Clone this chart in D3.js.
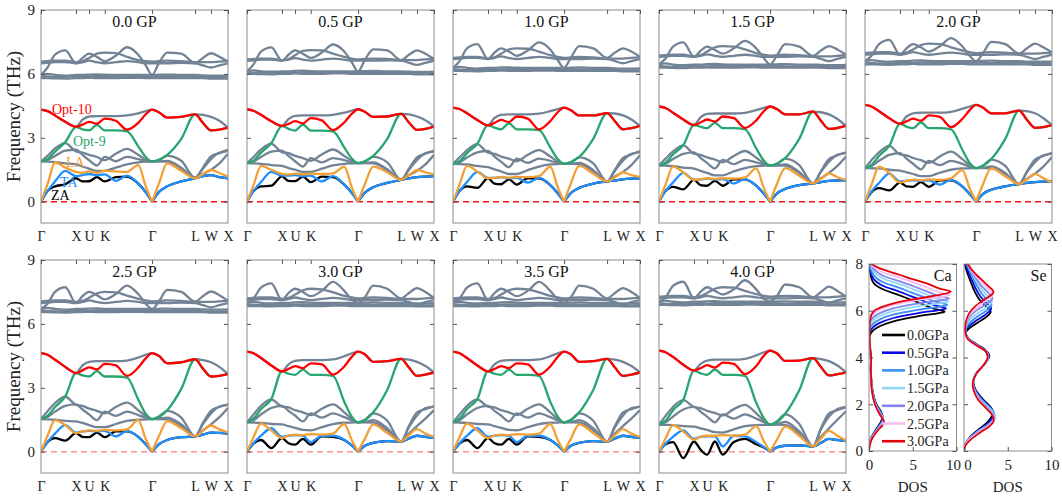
<!DOCTYPE html>
<html>
<head>
<meta charset="utf-8">
<script src="https://cdn.jsdelivr.net/npm/d3@7"></script>
<style>
  body { margin: 0; background: #fff; }
  svg { display: block; }
</style>
</head>
<body>
<svg width="1062" height="498"></svg>
<script>
// path coordinate (fraction of Γ-X-U-K-Γ-L-W-X) where each band value is read
const kGrid = [0, 0.035, 0.075, 0.13, 0.187, 0.222, 0.257, 0.299, 0.341, 0.40, 0.46, 0.52, 0.56, 0.594, 0.63, 0.675, 0.75, 0.824, 0.866, 0.909, 0.954, 1];
const symPos = [0, 0.187, 0.257, 0.341, 0.594, 0.824, 0.909, 1];
const symLabels = ['Γ', 'X', 'U', 'K', 'Γ', 'L', 'W', 'X'];
const freqTicks = [0, 3, 6, 9];
const panelTitles = ['0.0 GP', '0.5 GP', '1.0 GP', '1.5 GP', '2.0 GP', '2.5 GP', '3.0 GP', '3.5 GP', '4.0 GP'];

// band order: ZA, TA, LA, gray x3, Opt-9, Opt-10, gray, gray x6 (high group)
const bands00 = [
  [0, .5, .72, .82, 1.1, .95, .96, 1.15, .95, 1.15, 1.18, .85, .45, 0, .45, .72, .95, 1.1, 1.2, 1.25, 1.15, 1.1],
  [0, .5, .95, 1.45, 1.2, 1.25, 1.3, 1.25, 1.28, .98, 1.22, .85, .45, 0, .45, .72, .95, 1.1, 1.2, 1.25, 1.15, 1.1],
  [0, .82, 1.84, 1.6, 1.4, 1.35, 1.42, 1.35, 1.45, 1.42, 1.4, 1.72, .72, 0, .84, 1.8, 1.45, 1.1, 1.3, 1.5, 1.35, 1.18],
  [1.89, 1.88, 1.86, 1.8, 1.75, 1.65, 1.55, 1.45, 1.45, 1.6, 1.75, 1.85, 1.88, 1.89, 1.89, 1.88, 1.55, 1.12, 1.3, 1.5, 1.8, 2.25],
  [1.89, 1.95, 2.15, 2.4, 2.44, 2.2, 1.95, 1.7, 2.1, 1.9, 2.1, 2.0, 1.92, 1.89, 1.9, 1.92, 1.6, 1.12, 1.6, 2.13, 2.28, 2.44],
  [1.89, 2.15, 2.5, 2.75, 2.36, 2.3, 2.2, 2.1, 1.95, 2.25, 2.48, 2.2, 1.98, 1.89, 1.95, 2.15, 1.92, 1.12, 1.55, 2.0, 2.3, 2.38],
  [1.89, 2.0, 2.35, 2.8, 3.5, 3.4, 3.35, 3.6, 3.35, 3.35, 3.3, 2.6, 2.1, 1.89, 1.97, 2.2, 2.95, 4.1, 3.7, 3.35, 3.38, 3.48],
  [4.32, 4.25, 4.05, 3.75, 3.52, 3.62, 3.75, 3.66, 3.9, 3.8, 3.38, 3.7, 4.1, 4.32, 4.2, 3.95, 3.98, 4.1, 3.7, 3.35, 3.38, 3.48],
  [4.32, 4.25, 4.05, 3.75, 3.52, 3.85, 4.0, 4.02, 4.02, 4.02, 4.05, 4.15, 4.25, 4.32, 4.2, 3.95, 3.98, 4.1, 4.08, 3.98, 3.8, 3.48],
  [5.8, 5.8, 5.79, 5.78, 5.8, 5.8, 5.82, 5.8, 5.8, 5.8, 5.82, 5.82, 5.8, 5.8, 5.8, 5.8, 5.8, 5.8, 5.8, 5.78, 5.78, 5.78],
  [5.9, 5.88, 5.86, 5.86, 5.9, 5.88, 5.88, 5.9, 5.9, 5.88, 5.9, 5.9, 5.88, 5.9, 5.9, 5.88, 5.88, 5.9, 5.86, 5.85, 5.85, 5.86],
  [5.95, 6.0, 5.95, 5.92, 5.95, 5.95, 5.97, 5.98, 5.96, 5.95, 5.95, 5.95, 5.95, 5.95, 5.96, 5.97, 5.95, 5.95, 5.93, 5.92, 5.92, 5.93],
  [6.5, 6.52, 6.55, 6.55, 6.5, 6.55, 6.62, 6.55, 6.5, 6.55, 6.6, 6.55, 6.5, 6.5, 6.5, 6.5, 6.52, 6.5, 6.4, 6.3, 6.4, 6.5],
  [5.95, 6.3, 6.9, 7.1, 6.5, 6.75, 6.95, 6.8, 6.6, 6.85, 7.25, 6.9, 6.4, 5.95, 6.5, 7.0, 6.95, 6.5, 6.75, 6.97, 6.8, 6.58],
  [6.58, 6.6, 6.62, 6.62, 6.55, 6.6, 6.75, 6.95, 7.0, 6.98, 6.8, 6.65, 6.6, 6.58, 6.6, 6.62, 6.6, 6.55, 6.55, 6.55, 6.58, 6.6]
];
const bands05 = [
  [0, .5, .72, .75, 1.19, .98, .97, 1.18, .92, 1.18, 1.15, .8, .42, 0, .42, .68, .88, 1.03, 1.1, 1.15, 1.18, 1.2],
  [0, .5, .92, 1.4, 1.22, 1.22, 1.25, 1.2, 1.22, .95, 1.2, .8, .42, 0, .42, .68, .88, 1.03, 1.1, 1.15, 1.18, 1.2],
  [0, .78, 1.68, 1.5, 1.31, 1.28, 1.32, 1.28, 1.32, 1.3, 1.33, 1.64, .68, 0, .82, 1.65, 1.38, 1.03, 1.25, 1.48, 1.38, 1.27],
  [1.81, 1.8, 1.78, 1.72, 1.68, 1.58, 1.5, 1.4, 1.4, 1.55, 1.7, 1.78, 1.8, 1.81, 1.81, 1.8, 1.48, 1.03, 1.25, 1.45, 1.75, 2.2],
  [1.81, 1.88, 2.1, 2.35, 2.4, 2.15, 1.9, 1.65, 2.05, 1.85, 2.05, 1.95, 1.85, 1.81, 1.82, 1.85, 1.52, 1.03, 1.55, 2.08, 2.25, 2.4],
  [1.81, 2.1, 2.45, 2.72, 2.32, 2.28, 2.15, 2.05, 1.92, 2.22, 2.45, 2.15, 1.92, 1.81, 1.88, 2.1, 1.85, 1.03, 1.5, 1.95, 2.28, 2.35],
  [1.81, 1.93, 2.3, 2.75, 3.55, 3.42, 3.34, 3.62, 3.34, 3.34, 3.3, 2.55, 2.03, 1.81, 1.9, 2.15, 2.95, 4.12, 3.72, 3.37, 3.42, 3.53],
  [4.34, 4.27, 4.08, 3.78, 3.56, 3.65, 3.78, 3.68, 3.92, 3.82, 3.36, 3.72, 4.12, 4.34, 4.22, 3.98, 4.0, 4.12, 3.72, 3.37, 3.42, 3.53],
  [4.34, 4.27, 4.08, 3.78, 3.56, 3.88, 4.03, 4.05, 4.05, 4.05, 4.08, 4.18, 4.27, 4.34, 4.22, 3.98, 4.0, 4.12, 4.1, 4.0, 3.82, 3.53],
  [6.0, 6.0, 5.99, 5.98, 6.0, 6.0, 6.02, 6.0, 6.0, 6.0, 6.02, 6.02, 6.0, 6.0, 6.0, 6.0, 6.0, 6.0, 6.0, 5.98, 5.98, 5.98],
  [6.08, 6.06, 6.04, 6.04, 6.08, 6.06, 6.06, 6.08, 6.08, 6.06, 6.08, 6.08, 6.06, 6.08, 6.08, 6.06, 6.06, 6.08, 6.04, 6.03, 6.03, 6.04],
  [6.12, 6.17, 6.12, 6.1, 6.12, 6.12, 6.14, 6.15, 6.13, 6.12, 6.12, 6.12, 6.12, 6.12, 6.13, 6.14, 6.12, 6.12, 6.1, 6.09, 6.09, 6.1],
  [6.62, 6.64, 6.67, 6.67, 6.62, 6.67, 6.74, 6.67, 6.62, 6.67, 6.72, 6.67, 6.62, 6.62, 6.62, 6.62, 6.64, 6.62, 6.52, 6.42, 6.52, 6.62],
  [6.12, 6.45, 7.05, 7.25, 6.62, 6.9, 7.1, 6.95, 6.75, 7.0, 7.38, 7.05, 6.55, 6.12, 6.65, 7.15, 7.1, 6.65, 6.9, 7.1, 6.95, 6.7],
  [6.68, 6.7, 6.72, 6.72, 6.65, 6.7, 6.88, 7.08, 7.12, 7.1, 6.95, 6.8, 6.72, 6.68, 6.7, 6.72, 6.7, 6.65, 6.65, 6.65, 6.68, 6.7]
];
const bands10 = [
  [0, .5, .72, .65, 1.1, .85, .82, 1.05, .8, 1.1, 1.1, .78, .4, 0, .4, .65, .85, .95, 1.0, 1.05, 1.08, 1.1],
  [0, .5, .92, 1.4, 1.12, 1.12, 1.15, 1.1, 1.12, .9, 1.12, .78, .4, 0, .4, .65, .85, .95, 1.0, 1.05, 1.08, 1.1],
  [0, .8, 1.68, 1.42, 1.1, 1.12, 1.16, 1.12, 1.16, 1.15, 1.2, 1.64, .68, 0, .85, 1.68, 1.32, .95, 1.15, 1.37, 1.25, 1.16],
  [1.78, 1.77, 1.75, 1.68, 1.62, 1.52, 1.42, 1.3, 1.3, 1.48, 1.65, 1.75, 1.77, 1.78, 1.78, 1.77, 1.42, .95, 1.18, 1.4, 1.72, 2.18],
  [1.78, 1.85, 2.07, 2.32, 2.38, 2.12, 1.88, 1.62, 2.02, 1.82, 2.02, 1.92, 1.82, 1.78, 1.79, 1.82, 1.48, .95, 1.5, 2.05, 2.22, 2.38],
  [1.78, 2.08, 2.42, 2.7, 2.3, 2.25, 2.12, 2.02, 1.9, 2.2, 2.42, 2.12, 1.88, 1.78, 1.85, 2.08, 1.8, .95, 1.45, 1.92, 2.25, 2.32],
  [1.78, 1.9, 2.28, 2.72, 3.6, 3.48, 3.4, 3.68, 3.4, 3.4, 3.36, 2.55, 2.0, 1.78, 1.86, 2.1, 2.95, 4.16, 3.78, 3.4, 3.45, 3.56],
  [4.42, 4.35, 4.15, 3.84, 3.58, 3.7, 3.84, 3.74, 4.0, 3.9, 3.4, 3.78, 4.2, 4.42, 4.3, 4.05, 4.05, 4.16, 3.78, 3.4, 3.45, 3.56],
  [4.42, 4.35, 4.15, 3.84, 3.58, 3.93, 4.08, 4.1, 4.1, 4.1, 4.13, 4.25, 4.35, 4.42, 4.3, 4.05, 4.05, 4.16, 4.14, 4.05, 3.86, 3.56],
  [6.14, 6.14, 6.13, 6.12, 6.14, 6.14, 6.16, 6.14, 6.14, 6.14, 6.16, 6.16, 6.14, 6.14, 6.14, 6.14, 6.14, 6.14, 6.14, 6.12, 6.12, 6.12],
  [6.22, 6.2, 6.18, 6.18, 6.22, 6.2, 6.2, 6.22, 6.22, 6.2, 6.22, 6.22, 6.2, 6.22, 6.22, 6.2, 6.2, 6.22, 6.18, 6.17, 6.17, 6.18],
  [6.28, 6.33, 6.28, 6.25, 6.28, 6.28, 6.3, 6.31, 6.29, 6.28, 6.28, 6.28, 6.28, 6.28, 6.29, 6.3, 6.28, 6.28, 6.26, 6.25, 6.25, 6.26],
  [6.7, 6.72, 6.75, 6.75, 6.7, 6.75, 6.82, 6.75, 6.7, 6.75, 6.8, 6.75, 6.7, 6.7, 6.7, 6.7, 6.72, 6.7, 6.6, 6.5, 6.6, 6.7],
  [6.28, 6.6, 7.2, 7.4, 6.7, 7.0, 7.2, 7.05, 6.85, 7.1, 7.48, 7.15, 6.65, 6.28, 6.75, 7.3, 7.2, 6.75, 7.0, 7.2, 7.05, 6.8],
  [6.75, 6.77, 6.8, 6.8, 6.72, 6.78, 6.95, 7.15, 7.2, 7.18, 7.05, 6.88, 6.8, 6.75, 6.77, 6.8, 6.78, 6.72, 6.72, 6.72, 6.75, 6.78]
];
const bands15 = [
  [0, .5, .7, .58, 1.02, .78, .75, .98, .75, 1.05, 1.05, .75, .38, 0, .38, .6, .78, .86, .92, .98, 1.0, 1.0],
  [0, .5, .9, 1.35, 1.04, 1.05, 1.08, 1.05, 1.06, .85, 1.06, .75, .38, 0, .38, .6, .78, .86, .92, .98, 1.0, 1.0],
  [0, .8, 1.65, 1.38, 1.02, 1.06, 1.1, 1.06, 1.1, 1.08, 1.14, 1.56, .65, 0, .82, 1.58, 1.22, .86, 1.08, 1.33, 1.15, 1.02],
  [1.7, 1.69, 1.67, 1.6, 1.55, 1.45, 1.35, 1.24, 1.24, 1.42, 1.58, 1.67, 1.69, 1.7, 1.7, 1.69, 1.35, .86, 1.1, 1.35, 1.68, 2.12],
  [1.7, 1.78, 2.0, 2.25, 2.32, 2.06, 1.82, 1.56, 1.96, 1.76, 1.96, 1.85, 1.75, 1.7, 1.72, 1.75, 1.4, .86, 1.44, 2.0, 2.18, 2.32],
  [1.7, 2.02, 2.36, 2.64, 2.25, 2.2, 2.08, 1.98, 1.85, 2.15, 2.38, 2.06, 1.82, 1.7, 1.78, 2.02, 1.72, .86, 1.4, 1.88, 2.2, 2.28],
  [1.7, 1.83, 2.22, 2.66, 3.6, 3.52, 3.45, 3.7, 3.45, 3.45, 3.4, 2.5, 1.93, 1.7, 1.78, 2.05, 2.95, 4.23, 3.8, 3.42, 3.46, 3.56],
  [4.47, 4.4, 4.18, 3.86, 3.6, 3.72, 3.86, 3.76, 4.0, 3.92, 3.46, 3.82, 4.24, 4.47, 4.35, 4.1, 4.1, 4.23, 3.8, 3.42, 3.46, 3.56],
  [4.47, 4.4, 4.18, 3.86, 3.6, 3.96, 4.12, 4.14, 4.14, 4.14, 4.17, 4.3, 4.4, 4.47, 4.35, 4.1, 4.1, 4.23, 4.2, 4.1, 3.88, 3.56],
  [6.29, 6.29, 6.28, 6.27, 6.29, 6.29, 6.31, 6.29, 6.29, 6.29, 6.31, 6.31, 6.29, 6.29, 6.29, 6.29, 6.29, 6.29, 6.29, 6.27, 6.27, 6.27],
  [6.37, 6.35, 6.33, 6.33, 6.37, 6.35, 6.35, 6.37, 6.37, 6.35, 6.37, 6.37, 6.35, 6.37, 6.37, 6.35, 6.35, 6.37, 6.33, 6.32, 6.32, 6.33],
  [6.44, 6.49, 6.44, 6.41, 6.44, 6.44, 6.46, 6.47, 6.45, 6.44, 6.44, 6.44, 6.44, 6.44, 6.45, 6.46, 6.44, 6.44, 6.42, 6.41, 6.41, 6.42],
  [6.8, 6.82, 6.85, 6.85, 6.8, 6.85, 6.92, 6.85, 6.8, 6.85, 6.9, 6.85, 6.8, 6.8, 6.8, 6.8, 6.82, 6.8, 6.7, 6.6, 6.7, 6.8],
  [6.44, 6.72, 7.28, 7.48, 6.8, 7.08, 7.28, 7.12, 6.95, 7.2, 7.55, 7.2, 6.75, 6.44, 6.85, 7.4, 7.28, 6.85, 7.1, 7.3, 7.15, 6.9],
  [6.86, 6.88, 6.9, 6.9, 6.82, 6.88, 7.05, 7.25, 7.3, 7.28, 7.15, 6.98, 6.9, 6.86, 6.88, 6.9, 6.88, 6.82, 6.82, 6.82, 6.85, 6.88]
];
const bands20 = [
  [0, .45, .64, .53, .9, .72, .7, .92, .7, 1.0, 1.0, .72, .36, 0, .36, .56, .72, .83, .88, .92, .94, .95],
  [0, .48, .88, 1.32, .95, .98, 1.0, .98, 1.0, .8, 1.02, .72, .36, 0, .36, .56, .72, .83, .88, .92, .94, .95],
  [0, .8, 1.64, 1.35, .9, .98, 1.04, 1.0, 1.05, 1.02, 1.1, 1.48, .62, 0, .8, 1.56, 1.2, .83, 1.05, 1.31, 1.1, .9],
  [1.58, 1.57, 1.56, 1.5, 1.46, 1.38, 1.3, 1.2, 1.2, 1.36, 1.5, 1.56, 1.57, 1.58, 1.58, 1.57, 1.28, .83, 1.08, 1.32, 1.65, 2.1],
  [1.58, 1.68, 1.92, 2.2, 2.28, 2.02, 1.78, 1.52, 1.92, 1.72, 1.92, 1.78, 1.65, 1.58, 1.6, 1.66, 1.35, .83, 1.42, 1.98, 2.15, 2.3],
  [1.58, 1.95, 2.32, 2.62, 2.22, 2.18, 2.05, 1.95, 1.82, 2.12, 2.35, 2.0, 1.72, 1.58, 1.7, 1.98, 1.68, .83, 1.38, 1.85, 2.18, 2.25],
  [1.58, 1.73, 2.15, 2.63, 3.66, 3.52, 3.45, 3.72, 3.45, 3.45, 3.4, 2.45, 1.82, 1.58, 1.68, 2.0, 2.95, 4.28, 3.85, 3.47, 3.5, 3.6],
  [4.55, 4.47, 4.25, 3.92, 3.66, 3.77, 3.9, 3.8, 4.05, 3.98, 3.5, 3.88, 4.3, 4.55, 4.42, 4.15, 4.15, 4.28, 3.85, 3.47, 3.5, 3.6],
  [4.55, 4.47, 4.25, 3.92, 3.66, 4.0, 4.15, 4.18, 4.18, 4.18, 4.22, 4.36, 4.47, 4.55, 4.42, 4.15, 4.15, 4.28, 4.25, 4.15, 3.92, 3.6],
  [6.45, 6.45, 6.44, 6.43, 6.45, 6.45, 6.47, 6.45, 6.45, 6.45, 6.47, 6.47, 6.45, 6.45, 6.45, 6.45, 6.45, 6.45, 6.45, 6.43, 6.43, 6.43],
  [6.53, 6.51, 6.49, 6.49, 6.53, 6.51, 6.51, 6.53, 6.53, 6.51, 6.53, 6.53, 6.51, 6.53, 6.53, 6.51, 6.51, 6.53, 6.49, 6.48, 6.48, 6.49],
  [6.6, 6.65, 6.6, 6.57, 6.6, 6.6, 6.62, 6.63, 6.61, 6.6, 6.6, 6.6, 6.6, 6.6, 6.61, 6.62, 6.6, 6.6, 6.58, 6.57, 6.57, 6.58],
  [6.9, 6.92, 6.95, 6.95, 6.9, 6.95, 7.02, 6.95, 6.9, 6.95, 7.0, 6.95, 6.9, 6.9, 6.9, 6.9, 6.92, 6.9, 6.8, 6.7, 6.8, 6.9],
  [6.6, 6.85, 7.4, 7.6, 6.9, 7.2, 7.4, 7.25, 7.05, 7.3, 7.68, 7.3, 6.85, 6.6, 6.95, 7.5, 7.4, 6.95, 7.2, 7.42, 7.25, 7.0],
  [6.98, 7.0, 7.02, 7.02, 6.95, 7.0, 7.15, 7.35, 7.42, 7.4, 7.25, 7.1, 7.02, 6.98, 7.0, 7.02, 7.0, 6.95, 6.95, 6.95, 6.98, 7.0]
];
const bands25 = [
  [0, .45, .64, .52, .87, .7, .68, .9, .68, .95, .95, .7, .35, 0, .35, .55, .68, .72, .8, .9, .88, .85],
  [0, .45, .85, 1.25, .9, .95, .98, .95, .98, .72, .97, .7, .35, 0, .35, .55, .68, .72, .8, .9, .88, .85],
  [0, .75, 1.48, 1.25, .87, .95, 1.0, .98, 1.02, 1.0, 1.05, 1.48, .6, 0, .72, 1.44, 1.1, .72, .98, 1.23, 1.05, .9],
  [1.53, 1.52, 1.5, 1.45, 1.42, 1.35, 1.25, 1.15, 1.15, 1.3, 1.45, 1.5, 1.52, 1.53, 1.53, 1.52, 1.2, .72, 1.0, 1.28, 1.62, 2.05],
  [1.53, 1.63, 1.88, 2.15, 2.22, 1.98, 1.75, 1.48, 1.88, 1.68, 1.88, 1.72, 1.6, 1.53, 1.55, 1.6, 1.28, .72, 1.35, 1.92, 2.1, 2.22],
  [1.53, 1.9, 2.28, 2.58, 2.2, 2.15, 2.02, 1.92, 1.8, 2.1, 2.3, 1.95, 1.68, 1.53, 1.65, 1.92, 1.6, .72, 1.3, 1.8, 2.12, 2.2],
  [1.53, 1.68, 2.1, 2.6, 3.69, 3.58, 3.53, 3.78, 3.53, 3.53, 3.48, 2.45, 1.78, 1.53, 1.62, 1.95, 2.95, 4.34, 3.9, 3.53, 3.56, 3.64],
  [4.63, 4.55, 4.32, 3.98, 3.69, 3.82, 3.96, 3.86, 4.12, 4.05, 3.56, 3.95, 4.38, 4.63, 4.5, 4.15, 4.2, 4.34, 3.9, 3.53, 3.56, 3.64],
  [4.63, 4.55, 4.32, 3.98, 3.69, 4.05, 4.22, 4.25, 4.25, 4.25, 4.28, 4.42, 4.55, 4.63, 4.5, 4.15, 4.2, 4.34, 4.3, 4.2, 3.98, 3.64],
  [6.55, 6.55, 6.54, 6.53, 6.55, 6.55, 6.57, 6.55, 6.55, 6.55, 6.57, 6.57, 6.55, 6.55, 6.55, 6.55, 6.55, 6.55, 6.55, 6.53, 6.53, 6.53],
  [6.63, 6.61, 6.59, 6.59, 6.63, 6.61, 6.61, 6.63, 6.63, 6.61, 6.63, 6.63, 6.61, 6.63, 6.63, 6.61, 6.61, 6.63, 6.59, 6.58, 6.58, 6.59],
  [6.7, 6.75, 6.7, 6.67, 6.7, 6.7, 6.72, 6.73, 6.71, 6.7, 6.7, 6.7, 6.7, 6.7, 6.71, 6.72, 6.7, 6.7, 6.68, 6.67, 6.67, 6.68],
  [6.98, 7.0, 7.03, 7.03, 6.98, 7.03, 7.1, 7.03, 6.98, 7.03, 7.08, 7.03, 6.98, 6.98, 6.98, 6.98, 7.0, 6.98, 6.88, 6.78, 6.88, 6.98],
  [6.7, 6.95, 7.5, 7.72, 6.98, 7.3, 7.5, 7.35, 7.15, 7.4, 7.8, 7.4, 6.95, 6.7, 7.05, 7.6, 7.5, 7.05, 7.3, 7.52, 7.35, 7.08],
  [7.06, 7.08, 7.1, 7.1, 7.03, 7.08, 7.23, 7.43, 7.5, 7.48, 7.33, 7.18, 7.1, 7.06, 7.08, 7.1, 7.08, 7.03, 7.03, 7.03, 7.06, 7.08]
];
const bands30 = [
  [0, .38, .55, .17, .64, .4, .33, .6, .33, .72, .7, .55, .3, 0, .28, .42, .5, .48, .62, .75, .7, .65],
  [0, .4, .75, 1.1, .7, .75, .78, .75, .45, .75, .75, .56, .3, 0, .28, .42, .5, .48, .62, .75, .7, .65],
  [0, .68, 1.32, 1.0, .64, .75, .8, .78, .82, .8, .85, 1.3, .55, 0, .6, 1.28, .88, .48, .78, 1.06, .85, .69],
  [1.38, 1.37, 1.35, 1.3, 1.28, 1.2, 1.12, 1.02, 1.0, 1.15, 1.3, 1.36, 1.37, 1.38, 1.38, 1.37, 1.0, .48, .85, 1.2, 1.55, 1.95],
  [1.38, 1.48, 1.75, 2.05, 2.15, 1.92, 1.7, 1.42, 1.8, 1.6, 1.8, 1.62, 1.48, 1.38, 1.4, 1.48, 1.1, .48, 1.2, 1.85, 2.0, 2.12],
  [1.38, 1.75, 2.15, 2.45, 2.12, 2.08, 1.95, 1.85, 1.72, 2.02, 2.22, 1.85, 1.55, 1.38, 1.5, 1.8, 1.45, .48, 1.15, 1.7, 2.05, 2.12],
  [1.38, 1.55, 2.0, 2.47, 3.77, 3.66, 3.61, 3.85, 3.61, 3.61, 3.56, 2.35, 1.65, 1.38, 1.48, 1.85, 2.9, 4.36, 3.95, 3.56, 3.62, 3.72],
  [4.7, 4.62, 4.4, 4.05, 3.77, 3.88, 4.02, 3.92, 4.15, 4.1, 3.62, 4.0, 4.45, 4.7, 4.58, 4.22, 4.25, 4.36, 3.95, 3.56, 3.62, 3.72],
  [4.7, 4.62, 4.4, 4.05, 3.77, 4.1, 4.26, 4.3, 4.3, 4.3, 4.33, 4.48, 4.62, 4.7, 4.58, 4.22, 4.25, 4.36, 4.32, 4.22, 4.02, 3.72],
  [6.84, 6.84, 6.83, 6.82, 6.84, 6.84, 6.86, 6.84, 6.84, 6.84, 6.86, 6.86, 6.84, 6.84, 6.84, 6.84, 6.84, 6.84, 6.84, 6.82, 6.82, 6.82],
  [6.92, 6.9, 6.88, 6.88, 6.92, 6.9, 6.9, 6.92, 6.92, 6.9, 6.92, 6.92, 6.9, 6.92, 6.92, 6.9, 6.9, 6.92, 6.88, 6.87, 6.87, 6.88],
  [6.99, 7.04, 6.99, 6.96, 6.99, 6.99, 7.01, 7.02, 7.0, 6.99, 6.99, 6.99, 6.99, 6.99, 7.0, 7.01, 6.99, 6.99, 6.97, 6.96, 6.96, 6.97],
  [7.12, 7.14, 7.17, 7.17, 7.12, 7.17, 7.24, 7.17, 7.12, 7.17, 7.22, 7.17, 7.12, 7.12, 7.12, 7.12, 7.14, 7.12, 7.02, 6.92, 7.02, 7.12],
  [6.99, 7.2, 7.7, 7.9, 7.12, 7.45, 7.65, 7.5, 7.3, 7.55, 7.97, 7.55, 7.15, 6.99, 7.25, 7.8, 7.65, 7.2, 7.45, 7.68, 7.5, 7.22],
  [7.2, 7.22, 7.24, 7.24, 7.17, 7.22, 7.38, 7.58, 7.65, 7.62, 7.48, 7.32, 7.24, 7.2, 7.22, 7.24, 7.22, 7.17, 7.17, 7.17, 7.2, 7.22]
];
// the 3.5 GP panel is drawn identically to 3.0 GP in the figure
const bands35 = bands30;
const bands40 = [
  [0, .35, .45, -.3, .48, .1, -.14, .48, -.14, .45, .6, .35, .2, 0, .2, .28, .3, .25, .42, .6, .55, .5],
  [0, .38, .7, 1.0, .6, .7, .72, .72, .25, .75, .72, .45, .22, 0, .2, .28, .3, .25, .42, .6, .55, .5],
  [0, .62, 1.25, .95, .56, .7, .75, .75, .78, .75, .8, 1.2, .5, 0, .55, 1.18, .75, .25, .62, .98, .75, .52],
  [1.27, 1.26, 1.25, 1.2, 1.18, 1.1, 1.02, .92, .9, 1.05, 1.2, 1.25, 1.26, 1.27, 1.27, 1.26, .85, .25, .7, 1.1, 1.5, 1.9],
  [1.27, 1.38, 1.65, 1.98, 2.1, 1.88, 1.65, 1.38, 1.75, 1.55, 1.75, 1.55, 1.4, 1.27, 1.3, 1.4, .95, .25, 1.1, 1.8, 1.95, 2.08],
  [1.27, 1.68, 2.1, 2.42, 2.1, 2.05, 1.92, 1.82, 1.7, 2.0, 2.2, 1.8, 1.48, 1.27, 1.42, 1.75, 1.3, .25, 1.05, 1.65, 2.0, 2.1],
  [1.27, 1.45, 1.95, 2.44, 3.81, 3.68, 3.61, 3.86, 3.61, 3.61, 3.56, 2.3, 1.58, 1.27, 1.38, 1.78, 2.88, 4.39, 3.98, 3.58, 3.64, 3.73],
  [4.75, 4.67, 4.45, 4.08, 3.81, 3.92, 4.06, 3.95, 4.18, 4.12, 3.64, 4.02, 4.5, 4.75, 4.62, 4.26, 4.28, 4.39, 3.98, 3.58, 3.64, 3.73],
  [4.75, 4.67, 4.45, 4.08, 3.81, 4.12, 4.28, 4.32, 4.32, 4.32, 4.36, 4.52, 4.66, 4.75, 4.62, 4.26, 4.28, 4.39, 4.35, 4.25, 4.05, 3.73],
  [6.89, 6.89, 6.88, 6.87, 6.89, 6.89, 6.91, 6.89, 6.89, 6.89, 6.91, 6.91, 6.89, 6.89, 6.89, 6.89, 6.89, 6.89, 6.89, 6.87, 6.87, 6.87],
  [6.97, 6.95, 6.93, 6.93, 6.97, 6.95, 6.95, 6.97, 6.97, 6.95, 6.97, 6.97, 6.95, 6.97, 6.97, 6.95, 6.95, 6.97, 6.93, 6.92, 6.92, 6.93],
  [7.04, 7.09, 7.04, 7.01, 7.04, 7.04, 7.06, 7.07, 7.05, 7.04, 7.04, 7.04, 7.04, 7.04, 7.05, 7.06, 7.04, 7.04, 7.02, 7.01, 7.01, 7.02],
  [7.2, 7.22, 7.25, 7.25, 7.2, 7.25, 7.32, 7.25, 7.2, 7.25, 7.3, 7.25, 7.2, 7.2, 7.2, 7.2, 7.22, 7.2, 7.1, 7.0, 7.1, 7.2],
  [7.04, 7.25, 7.78, 7.98, 7.2, 7.5, 7.72, 7.55, 7.38, 7.62, 8.05, 7.62, 7.2, 7.04, 7.3, 7.85, 7.72, 7.25, 7.5, 7.75, 7.55, 7.28],
  [7.28, 7.3, 7.32, 7.32, 7.25, 7.3, 7.45, 7.65, 7.72, 7.7, 7.55, 7.4, 7.32, 7.28, 7.3, 7.32, 7.3, 7.25, 7.25, 7.25, 7.28, 7.3]
];

// DOS curves: [frequency THz, DOS]
const dosLabels = ['0.0GPa', '0.5GPa', '1.0GPa', '1.5GPa', '2.0GPa', '2.5GPa', '3.0GPa'];
const caDos = [
  [[0,0],[0.3,0.05],[0.6,0.3],[0.9,0.75],[1.2,1.3],[1.45,1.55],[1.7,1.35],[2.0,0.85],[2.5,0.45],[3.0,0.28],[3.5,0.2],[4.0,0.22],[4.5,0.08],[4.9,0.05],[5.15,0.45],[5.35,1.3],[5.55,2.8],[5.75,5.4],[5.9,8.0],[5.96,8.65],[6.1,7.3],[6.3,6.0],[6.5,4.6],[6.7,3.2],[6.95,1.4],[7.2,0.5],[7.5,0.2],[8.0,0.05]],
  [[0,0],[0.3,0.06],[0.6,0.32],[0.9,0.8],[1.2,1.38],[1.42,1.58],[1.7,1.3],[2.0,0.8],[2.5,0.42],[3.0,0.27],[3.5,0.2],[4.0,0.22],[4.5,0.08],[5.04,0.05],[5.29,0.45],[5.49,1.3],[5.69,2.8],[5.89,5.5],[6.04,8.15],[6.1,8.8],[6.24,7.45],[6.44,6.1],[6.64,4.7],[6.84,3.3],[7.09,1.45],[7.34,0.55],[7.64,0.2],[8.0,0.06]],
  [[0,0],[0.3,0.07],[0.6,0.34],[0.9,0.85],[1.2,1.45],[1.4,1.6],[1.7,1.25],[2.0,0.78],[2.5,0.4],[3.0,0.26],[3.5,0.2],[4.0,0.22],[4.5,0.08],[5.19,0.05],[5.44,0.45],[5.64,1.3],[5.84,2.85],[6.04,5.6],[6.19,8.3],[6.25,8.95],[6.39,7.55],[6.59,6.2],[6.79,4.8],[6.99,3.4],[7.24,1.5],[7.49,0.58],[7.79,0.22],[8.0,0.1]],
  [[0,0],[0.3,0.08],[0.6,0.36],[0.9,0.9],[1.2,1.5],[1.37,1.62],[1.65,1.25],[2.0,0.75],[2.5,0.4],[3.0,0.26],[3.5,0.2],[4.0,0.22],[4.5,0.08],[5.34,0.05],[5.59,0.45],[5.79,1.3],[5.99,2.85],[6.19,5.6],[6.34,8.4],[6.4,9.05],[6.54,7.65],[6.74,6.3],[6.94,4.9],[7.14,3.5],[7.39,1.55],[7.64,0.6],[8.0,0.12]],
  [[0,0],[0.3,0.09],[0.6,0.38],[0.9,0.95],[1.15,1.5],[1.35,1.64],[1.65,1.22],[2.0,0.72],[2.5,0.38],[3.0,0.25],[3.5,0.2],[4.0,0.22],[4.5,0.08],[5.46,0.05],[5.71,0.45],[5.91,1.3],[6.11,2.85],[6.31,5.6],[6.46,8.5],[6.52,9.15],[6.66,7.75],[6.86,6.4],[7.06,5.0],[7.26,3.55],[7.51,1.55],[7.76,0.6],[8.0,0.15]],
  [[0,0],[0.3,0.1],[0.6,0.4],[0.9,1.0],[1.12,1.52],[1.32,1.66],[1.6,1.2],[2.0,0.7],[2.5,0.37],[3.0,0.25],[3.5,0.2],[4.0,0.22],[4.5,0.1],[5.61,0.07],[5.86,0.45],[6.06,1.3],[6.26,2.85],[6.46,5.6],[6.61,8.6],[6.67,9.25],[6.81,7.85],[7.01,6.5],[7.21,5.1],[7.41,3.6],[7.66,1.5],[7.9,0.45],[8.0,0.2]],
  [[0,0],[0.3,0.12],[0.6,0.45],[0.9,1.05],[1.1,1.55],[1.28,1.7],[1.55,1.25],[2.0,0.68],[2.5,0.36],[3.0,0.25],[3.5,0.22],[4.0,0.25],[4.5,0.12],[5.5,0.1],[5.85,0.3],[6.05,0.8],[6.25,2.2],[6.45,4.5],[6.62,7.2],[6.76,9.0],[6.82,9.35],[6.96,8.0],[7.17,6.6],[7.35,5.0],[7.53,3.55],[7.81,1.24],[8.0,0.27]]
];
const seDos = [
  [[0,0],[0.3,0.15],[0.6,0.7],[0.9,1.6],[1.2,2.6],[1.5,3.2],[1.7,3.3],[1.9,3.0],[2.2,2.2],[2.6,1.35],[2.95,1.05],[3.3,1.35],[3.7,2.3],[4.05,2.9],[4.3,2.5],[4.55,1.5],[4.8,0.55],[5.05,0.2],[5.25,0.6],[5.5,1.6],[5.75,2.6],[5.96,3.05],[6.2,2.5],[6.46,1.8],[6.8,1.25],[7.17,0.83],[7.74,0.27],[8.0,0.1]],
  [[0,0],[0.3,0.16],[0.6,0.75],[0.9,1.7],[1.15,2.65],[1.45,3.3],[1.63,3.4],[1.85,3.05],[2.2,2.1],[2.6,1.3],[2.95,1.05],[3.3,1.38],[3.7,2.3],[4.05,2.85],[4.3,2.5],[4.55,1.5],[4.8,0.52],[5.05,0.18],[5.3,0.45],[5.6,1.5],[5.88,2.6],[6.1,3.1],[6.34,2.55],[6.6,1.9],[6.94,1.35],[7.31,0.9],[7.8,0.35],[8.0,0.18]],
  [[0,0],[0.3,0.17],[0.6,0.8],[0.9,1.8],[1.1,2.65],[1.4,3.4],[1.57,3.5],[1.8,3.1],[2.2,2.0],[2.6,1.25],[2.95,1.05],[3.3,1.4],[3.7,2.3],[4.03,2.8],[4.28,2.5],[4.53,1.5],[4.8,0.5],[5.07,0.17],[5.35,0.35],[5.7,1.35],[6.0,2.55],[6.25,3.15],[6.49,2.6],[6.75,2.0],[7.09,1.45],[7.46,0.95],[8.0,0.3]],
  [[0,0],[0.3,0.18],[0.6,0.82],[0.9,1.85],[1.1,2.75],[1.35,3.45],[1.5,3.55],[1.75,3.1],[2.2,1.9],[2.6,1.2],[2.93,1.03],[3.3,1.4],[3.7,2.3],[4.02,2.78],[4.27,2.5],[4.52,1.5],[4.8,0.47],[5.08,0.16],[5.4,0.28],[5.8,1.2],[6.15,2.6],[6.4,3.2],[6.64,2.7],[6.9,2.05],[7.24,1.5],[7.6,0.95],[8.0,0.45]],
  [[0,0],[0.3,0.18],[0.6,0.8],[0.85,1.8],[1.1,2.8],[1.3,3.4],[1.43,3.5],[1.7,3.05],[2.2,1.8],[2.6,1.15],[2.92,1.02],[3.3,1.4],[3.7,2.3],[4.01,2.75],[4.26,2.5],[4.51,1.5],[4.8,0.45],[5.09,0.15],[5.45,0.24],[5.85,0.9],[6.25,2.4],[6.52,3.25],[6.76,2.8],[7.02,2.1],[7.32,1.5],[7.65,0.95],[8.0,0.5]],
  [[0,0],[0.28,0.19],[0.55,0.8],[0.82,1.85],[1.08,2.85],[1.25,3.35],[1.37,3.45],[1.62,3.1],[2.2,1.7],[2.6,1.12],[2.91,1.01],[3.3,1.4],[3.7,2.3],[4.0,2.72],[4.25,2.5],[4.5,1.5],[4.8,0.42],[5.1,0.15],[5.5,0.22],[5.88,0.75],[6.25,1.9],[6.55,2.95],[6.67,3.3],[6.9,2.85],[7.17,2.15],[7.45,1.45],[7.75,0.85],[8.0,0.48]],
  [[0,0],[0.25,0.2],[0.5,0.8],[0.8,1.9],[1.05,2.9],[1.3,3.4],[1.55,3.2],[1.8,2.6],[2.2,1.6],[2.6,1.1],[2.9,1.0],[3.3,1.4],[3.7,2.3],[4.0,2.7],[4.25,2.5],[4.5,1.5],[4.8,0.4],[5.1,0.15],[5.5,0.2],[5.9,0.6],[6.2,1.3],[6.5,2.4],[6.7,3.2],[6.82,3.37],[7.05,2.8],[7.3,2.1],[7.55,1.4],[7.8,0.8],[8.0,0.45]]
];
const dosFreqTicks = [0, 2, 4, 6, 8];
const dosTicks = [0, 5, 10];

const gray = '#738396';
const bandColors = ['#000000', '#1e8fff', '#f29f35', gray, gray, gray, '#26a66e', '#ff0000', gray, gray, gray, gray, gray, gray, gray];
const drawOrder = [3, 4, 5, 8, 9, 10, 11, 12, 13, 14, 0, 1, 2, 6, 7];
const dosColors = ['#000000', '#0a0ae8', '#3c8ef2', '#8ed8f6', '#8585ee', '#f6bcee', '#e3000b'];

const font = '"Liberation Serif", "Times New Roman", serif';
const svg = d3.select('svg');
const panelW = 187, panelH = 213;
const colX = [41, 247, 453, 659, 865];
const rowY = [10, 260];
const allBands = [bands00, bands05, bands10, bands15, bands20, bands25, bands30, bands35, bands40];

function styleAxis(sel) {
  sel.select('.domain').remove();
  sel.attr('font-family', font).attr('font-size', 15);
  sel.selectAll('line').attr('stroke', '#555');
  sel.selectAll('text').attr('fill', '#222');
}

allBands.forEach((bands, i) => {
  const row = i < 5 ? 0 : 1;
  const col = i < 5 ? i : i - 5;
  const x0 = colX[col], y0 = rowY[row];
  const x = d3.scaleLinear().domain([0, 1]).range([x0, x0 + panelW]);
  const y = d3.scaleLinear().domain([-1, 9]).range([y0 + panelH, y0]);
  const g = svg.append('g');

  svg.append('clipPath').attr('id', 'clip' + i)
    .append('rect').attr('x', x0).attr('y', y0).attr('width', panelW).attr('height', panelH);

  g.append('line')
    .attr('x1', x(0)).attr('x2', x(1)).attr('y1', y(0)).attr('y2', y(0))
    .attr('stroke', row === 0 ? '#ff1010' : '#ff9090')
    .attr('stroke-width', 1.4)
    .attr('stroke-dasharray', '6,4');

  const plot = g.append('g').attr('clip-path', `url(#clip${i})`);
  const line = d3.line().x(d => x(d[0])).y(d => y(d[1])).curve(d3.curveMonotoneX);

  drawOrder.forEach(b => {
    const pts = kGrid.map((k, j) => [k, bands[b][j]]);
    // acoustic branches have a cusp at the zone-centre Γ
    const pieces = b < 3 ? [pts.slice(0, 14), pts.slice(13)] : [pts];
    pieces.forEach(p => {
      plot.append('path')
        .attr('d', line(p))
        .attr('fill', 'none')
        .attr('stroke', bandColors[b])
        .attr('stroke-width', 2.3)
        .attr('stroke-linejoin', 'round');
    });
  });

  g.append('rect')
    .attr('x', x0).attr('y', y0).attr('width', panelW).attr('height', panelH)
    .attr('fill', 'none').attr('stroke', '#8c8c8c').attr('stroke-width', 1);

  const yLeft = d3.axisLeft(y).tickValues(freqTicks).tickSize(-4).tickPadding(6);
  if (col !== 0) yLeft.tickFormat('');
  g.append('g').attr('transform', `translate(${x0},0)`).call(yLeft).call(styleAxis);
  g.append('g').attr('transform', `translate(${x0 + panelW},0)`)
    .call(d3.axisRight(y).tickValues(freqTicks).tickSize(-4).tickFormat('')).call(styleAxis);
  g.append('g').attr('transform', `translate(0,${y0})`)
    .call(d3.axisTop(x).tickValues(symPos).tickSize(-4).tickFormat('')).call(styleAxis);
  g.append('g').attr('transform', `translate(0,${y0 + panelH})`)
    .call(d3.axisBottom(x).tickValues(symPos).tickSize(0).tickPadding(8).tickFormat((d, j) => symLabels[j]))
    .call(styleAxis)
    .attr('font-size', 14);

  g.append('text')
    .attr('x', x0 + panelW / 2).attr('y', y0 + 17)
    .attr('text-anchor', 'middle')
    .attr('font-family', font).attr('font-size', 16).attr('fill', '#111')
    .text(panelTitles[i]);

  if (col === 0) {
    svg.append('text')
      .attr('transform', `translate(20,${y0 + panelH / 2}) rotate(-90)`)
      .attr('text-anchor', 'middle')
      .attr('font-family', font).attr('font-size', 19).attr('fill', '#222')
      .text('Frequency (THz)');
  }

  if (i === 0) {
    const lab = [
      ['Opt-10', 52, 114, bandColors[7]],
      ['Opt-9', 73, 146, bandColors[6]],
      ['LA', 66, 167, bandColors[2]],
      ['TA', 60, 187, bandColors[1]],
      ['ZA', 51, 200, bandColors[0]]
    ];
    lab.forEach(l => {
      g.append('text').attr('x', l[1]).attr('y', l[2])
        .attr('font-family', font).attr('font-size', 14).attr('fill', l[3])
        .text(l[0]);
    });
  }
});

// DOS panels
const dosPanels = [
  {name: 'Ca', data: caDos, x0: 869},
  {name: 'Se', data: seDos, x0: 964}
];
const dosW = 87.5, dosTop = 264, dosBottom = 451;
const yDos = d3.scaleLinear().domain([0, 8]).range([dosBottom, dosTop]);

dosPanels.forEach((p, pi) => {
  const xDos = d3.scaleLinear().domain([0, 10]).range([p.x0, p.x0 + dosW]);
  const g = svg.append('g');
  svg.append('clipPath').attr('id', 'dclip' + pi)
    .append('rect').attr('x', p.x0).attr('y', dosTop).attr('width', dosW).attr('height', dosBottom - dosTop);
  const plot = g.append('g').attr('clip-path', `url(#dclip${pi})`);
  const line = d3.line().x(d => xDos(d[1])).y(d => yDos(d[0])).curve(d3.curveCatmullRom.alpha(0.5));
  p.data.forEach((c, ci) => {
    plot.append('path').attr('d', line(c))
      .attr('fill', 'none').attr('stroke', dosColors[ci]).attr('stroke-width', 1.8);
  });

  g.append('rect')
    .attr('x', p.x0).attr('y', dosTop).attr('width', dosW).attr('height', dosBottom - dosTop)
    .attr('fill', 'none').attr('stroke', '#8c8c8c');

  const yl = d3.axisLeft(yDos).tickValues(dosFreqTicks).tickSize(-4).tickPadding(6);
  if (pi !== 0) yl.tickFormat('');
  g.append('g').attr('transform', `translate(${p.x0},0)`).call(yl).call(styleAxis);
  g.append('g').attr('transform', `translate(${p.x0 + dosW},0)`)
    .call(d3.axisRight(yDos).tickValues(dosFreqTicks).tickSize(-4).tickFormat('')).call(styleAxis);
  const xAx = g.append('g').attr('transform', `translate(0,${dosBottom})`)
    .call(d3.axisBottom(xDos).tickValues(dosTicks).tickSize(-4).tickPadding(8)).call(styleAxis);
  // keep "10" of Ca and "0" of Se apart where the two panels meet
  xAx.selectAll('text').attr('dx', d => (pi === 0 && d === 10) ? -3.5 : (pi === 1 && d === 0) ? 3.5 : 0);

  g.append('text')
    .attr('x', p.x0 + dosW / 2).attr('y', 492)
    .attr('text-anchor', 'middle')
    .attr('font-family', font).attr('font-size', 15).attr('fill', '#222')
    .text('DOS');
  g.append('text')
    .attr('x', p.x0 + dosW - 5).attr('y', 281)
    .attr('text-anchor', 'end')
    .attr('font-family', font).attr('font-size', 16).attr('fill', '#111')
    .text(p.name);
});

// legend inside the Ca panel
const legend = svg.append('g');
dosLabels.forEach((lab, i) => {
  const ly = 335 + i * 17.7;
  legend.append('line')
    .attr('x1', 882).attr('x2', 905).attr('y1', ly).attr('y2', ly)
    .attr('stroke', dosColors[i]).attr('stroke-width', 2.6);
  legend.append('text')
    .attr('x', 907).attr('y', ly + 5)
    .attr('font-family', font).attr('font-size', 14).attr('fill', '#222')
    .text(lab);
});
</script>
</body>
</html>
